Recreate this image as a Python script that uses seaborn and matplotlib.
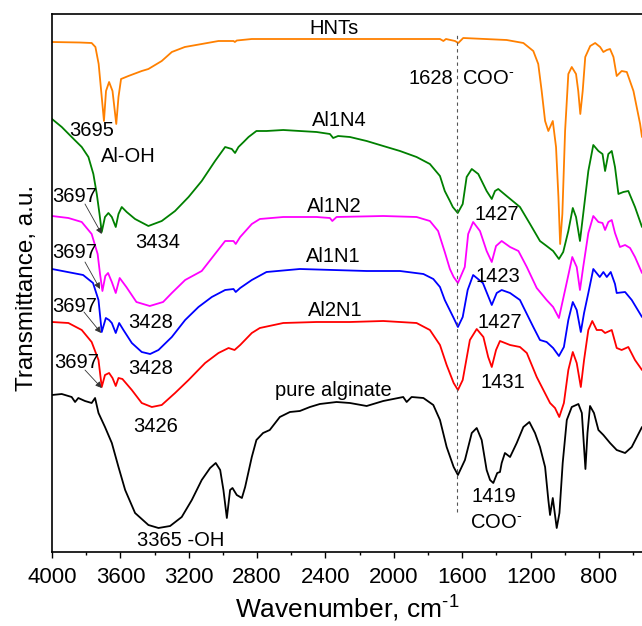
import numpy as np
import pandas as pd
import matplotlib
matplotlib.use("Agg")
import matplotlib.pyplot as plt
import seaborn as sns

# FTIR spectra: (wavenumber cm-1, transmittance a.u.)
hnts = [(4000, 510), (3838, 509.5), (3768, 509), (3746, 505), (3727, 488), (3709, 455),
        (3696, 431), (3684, 461), (3666, 470), (3646, 461), (3624, 428), (3611, 455),
        (3596, 473), (3553, 476), (3475, 481), (3436, 483), (3358, 491), (3299, 500),
        (3223, 505), (3124, 508), (3026, 511), (2938, 511), (2930, 510), (2919, 511.5),
        (2831, 513), (2257, 513), (1730, 513), (1710, 511), (1695, 513), (1642, 511),
        (1623, 509), (1594, 514), (1340, 512), (1242, 509), (1184, 501), (1155, 488),
        (1135, 461), (1115, 431), (1096, 421), (1070, 431), (1051, 405), (1037, 355),
        (1027, 308), (1014, 338), (998, 421), (979, 478), (959, 485), (934, 478),
        (921, 461), (909, 438), (895, 461), (880, 495), (851, 506), (822, 509),
        (793, 505), (774, 500), (754, 502), (735, 503), (715, 495), (696, 476),
        (667, 481), (637, 480), (598, 461), (559, 428), (548, 415)]

al1n4 = [(4000, 433), (3943, 425), (3885, 415), (3826, 405), (3787, 395), (3758, 378),
         (3738, 358), (3722, 338), (3709, 320), (3690, 335), (3670, 339), (3650, 335),
         (3627, 325), (3611, 338), (3592, 345), (3563, 340), (3514, 333), (3436, 326),
         (3358, 331), (3280, 341), (3201, 355), (3124, 371), (3046, 391), (2987, 405),
         (2948, 403), (2929, 399), (2909, 405), (2879, 410), (2850, 415), (2804, 421),
         (2745, 421), (2647, 422), (2550, 421), (2452, 420), (2374, 418), (2355, 414),
         (2326, 416), (2257, 415), (2159, 411), (2062, 406), (1964, 401), (1867, 395),
         (1789, 388), (1730, 376), (1702, 361), (1672, 351), (1655, 345), (1626, 339),
         (1597, 348), (1574, 375), (1544, 383), (1506, 378), (1457, 361), (1427, 353),
         (1408, 361), (1389, 363), (1340, 356), (1262, 345), (1203, 328), (1145, 311),
         (1106, 306), (1068, 301), (1034, 293), (1009, 300), (979, 321), (953, 344),
         (934, 335), (911, 311), (892, 338), (862, 381), (833, 407), (803, 401),
         (779, 398), (764, 381), (745, 398), (725, 401), (706, 385), (686, 358),
         (657, 360), (628, 361), (589, 345), (548, 325)]

al1n2 = [(4000, 336), (3904, 334), (3826, 330), (3768, 318), (3733, 298), (3719, 278),
         (3705, 261), (3688, 276), (3672, 279), (3650, 270), (3627, 259), (3604, 274),
         (3565, 265), (3506, 250), (3428, 246), (3350, 250), (3299, 259), (3221, 272),
         (3124, 281), (2987, 311), (2938, 311), (2925, 308), (2899, 315), (2831, 328),
         (2784, 333), (2647, 335), (2452, 335), (2374, 334), (2360, 331), (2335, 335),
         (2062, 336), (1867, 335), (1789, 331), (1741, 321), (1702, 300), (1672, 283),
         (1650, 275), (1625, 269), (1585, 285), (1565, 318), (1536, 330), (1496, 321),
         (1457, 301), (1427, 290), (1402, 306), (1369, 311), (1320, 305), (1271, 301),
         (1222, 285), (1164, 264), (1106, 252), (1068, 245), (1034, 234), (989, 269),
         (956, 295), (930, 285), (911, 262), (892, 285), (862, 319), (833, 336),
         (803, 330), (779, 329), (764, 322), (745, 330), (725, 332), (706, 319),
         (677, 305), (647, 307), (618, 304), (589, 295), (548, 279)]

al1n1 = [(4000, 283), (3818, 277), (3760, 269), (3728, 252), (3709, 220), (3685, 234),
         (3666, 232), (3650, 229), (3627, 219), (3607, 229), (3582, 222), (3533, 209),
         (3475, 200), (3426, 198), (3377, 202), (3299, 215), (3221, 232), (3143, 245),
         (3065, 255), (2987, 262), (2938, 263), (2925, 260), (2899, 264), (2831, 272),
         (2745, 280), (2550, 283), (2355, 282), (2159, 281), (1964, 281), (1827, 278),
         (1769, 273), (1730, 265), (1702, 252), (1650, 234), (1625, 225), (1597, 235),
         (1568, 262), (1536, 277), (1479, 269), (1427, 247), (1398, 259), (1369, 262),
         (1320, 259), (1262, 252), (1242, 245), (1184, 225), (1145, 212), (1106, 210),
         (1068, 204), (1034, 196), (1005, 205), (979, 232), (953, 250), (930, 242),
         (906, 220), (887, 239), (862, 259), (833, 283), (795, 275), (774, 280),
         (754, 275), (731, 280), (706, 268), (696, 259), (647, 260), (608, 252),
         (548, 235)]

al2n1 = [(4000, 230), (3904, 229), (3826, 222), (3768, 210), (3728, 192), (3709, 165),
         (3690, 177), (3666, 179), (3646, 174), (3627, 166), (3611, 174), (3588, 173),
         (3533, 162), (3475, 149), (3416, 145), (3358, 147), (3280, 159), (3201, 172),
         (3104, 189), (3026, 199), (2967, 204), (2932, 202), (2899, 207), (2831, 219),
         (2784, 224), (2647, 229), (2452, 230), (2257, 230), (2062, 231), (1867, 229),
         (1789, 222), (1730, 207), (1691, 187), (1650, 169), (1625, 162), (1597, 172),
         (1555, 212), (1515, 223), (1476, 215), (1448, 195), (1427, 185), (1402, 202),
         (1379, 211), (1320, 207), (1262, 205), (1222, 199), (1164, 175), (1125, 162),
         (1086, 149), (1057, 144), (1032, 135), (1005, 149), (979, 182), (953, 200),
         (930, 189), (906, 165), (887, 192), (862, 222), (839, 231), (813, 222),
         (784, 222), (764, 219), (725, 222), (696, 204), (667, 202), (628, 205),
         (589, 192), (548, 182)]

alginate = [(4000, 157), (3943, 158), (3885, 155), (3865, 150), (3846, 154), (3807, 151),
            (3768, 149), (3748, 154), (3728, 139), (3690, 125), (3650, 109), (3611, 85),
            (3572, 62), (3514, 39), (3436, 27), (3377, 24), (3309, 26), (3241, 35),
            (3182, 52), (3124, 72), (3075, 84), (3042, 89), (3016, 82), (2997, 62),
            (2977, 34), (2958, 62), (2944, 64), (2919, 57), (2889, 54), (2870, 65),
            (2831, 95), (2804, 112), (2765, 119), (2726, 122), (2667, 135), (2608, 140),
            (2550, 141), (2491, 145), (2433, 148), (2335, 150), (2257, 149), (2159, 146),
            (2062, 151), (1945, 155), (1925, 150), (1896, 155), (1827, 154), (1769, 147),
            (1730, 132), (1691, 105), (1650, 85), (1625, 77), (1584, 92), (1544, 119),
            (1515, 124), (1486, 112), (1457, 82), (1437, 72), (1418, 69), (1395, 79),
            (1379, 80), (1369, 89), (1350, 99), (1320, 95), (1281, 109), (1242, 125),
            (1207, 130), (1174, 119), (1145, 105), (1115, 85), (1096, 52), (1086, 37),
            (1070, 54), (1047, 24), (1031, 39), (1012, 89), (988, 132), (959, 145),
            (920, 148), (900, 139), (891, 115), (879, 83), (867, 119), (852, 146),
            (829, 139), (803, 122), (774, 117), (735, 109), (696, 102), (647, 99),
            (608, 105), (578, 115), (548, 125)]

samples = ["HNTs", "Al1N4", "Al1N2", "Al1N1", "Al2N1", "pure alginate"]
colors = ["#ff8000", "#008000", "#ff00ff", "#0000ff", "#ff0000", "#000000"]
spectra = [hnts, al1n4, al1n2, al1n1, al2n1, alginate]

# peak labels: text, wavenumber, transmittance
peak_labels = [("3695", 3768, 421), ("Al-OH", 3554, 395), ("3434", 3380, 309),
               ("3428", 3422, 229), ("3428", 3422, 183), ("3426", 3393, 126),
               ("3365 -OH", 3246, 11), ("1427", 1397, 338), ("1423", 1393, 275),
               ("1427", 1379, 229), ("1431", 1361, 170), ("1419", 1414, 56),
               (r"COO$^{\text{-}}$", 1402, 30)]
# curve name positions
name_pos = [(2351, 524), (2316, 432), (2351, 346), (2357, 295), (2345, 241), (2351, 161)]
# 3697 labels with arrow start and tip
arrows_3697 = [((3867, 355), (3807, 348), (3709, 318)),
               ((3867, 299), (3807, 290), (3719, 263)),
               ((3867, 246), (3813, 240), (3713, 219)),
               ((3855, 189), (3807, 182), (3709, 164))]

rows = []
for name, spec in zip(samples, spectra):
    for wn, t in spec:
        rows.append({"sample": name, "wn": wn, "t": t})
df = pd.DataFrame(rows)

sns.set_style("ticks", {"axes.edgecolor": "black", "xtick.color": "black",
                        "ytick.color": "black", "text.color": "black",
                        "axes.labelcolor": "black"})
plt.rcParams["font.family"] = ["Liberation Sans", "DejaVu Sans"]
plt.rcParams["mathtext.fontset"] = "custom"
plt.rcParams["mathtext.rm"] = "Liberation Sans"
plt.rcParams["mathtext.it"] = "Liberation Sans:italic"

fig = plt.figure(figsize=(6.42, 6.26), dpi=100)
ax = fig.add_axes([52 / 642, 74 / 626, 590 / 642, 538 / 626])

sns.lineplot(data=df, x="wn", y="t", hue="sample", hue_order=samples,
             palette=dict(zip(samples, colors)), estimator=None, sort=False,
             legend=False, linewidth=1.3, ax=ax)

ax.set_xlim(4000, 548)
ax.set_ylim(0, 538)
ax.set_xticks(np.arange(4000, 799, -400))
ax.set_xticks(np.arange(3800, 599, -400), minor=True)
ax.set_yticks([])
ax.tick_params(axis="x", which="major", direction="out", length=4.5, width=1,
               labelsize=16, pad=6.5)
ax.tick_params(axis="x", which="minor", direction="out", length=2.5, width=1)
for side in ["left", "top", "bottom"]:
    ax.spines[side].set_linewidth(1.2)
ax.spines["right"].set_visible(False)

ax.set_xlabel(r"Wavenumber, cm$^{\text{-1}}$", fontsize=19, va="baseline")
ax.xaxis.set_label_coords(0.5, -0.123)
ax.set_ylabel("Transmittance, a.u.", fontsize=17.5, va="baseline")
ax.yaxis.set_label_coords(-0.032, 0.49)

# dashed line at 1628
ax.plot([1628, 1628], [40, 520], color="#555555", lw=0.8, ls=(0, (3, 3)))
ax.text(1654, 473, "1628", fontsize=14.5, ha="right", va="center")
ax.text(1601, 473, r"COO$^{\text{-}}$", fontsize=14.5, ha="left", va="center")

for name, (wx, wy) in zip(samples, name_pos):
    ax.text(wx, wy, name, fontsize=14.5, ha="center", va="center")

for txt, wx, wy in peak_labels:
    ax.text(wx, wy, txt, fontsize=14.5, ha="center", va="center")

for (tpos, start, tip) in arrows_3697:
    ax.text(tpos[0], tpos[1], "3697", fontsize=14.5, ha="center", va="center")
    ax.annotate("", xy=tip, xytext=start,
                arrowprops=dict(arrowstyle="-|>", color="#333333", lw=0.6,
                                mutation_scale=9, shrinkA=0, shrinkB=0))

plt.savefig("out.png", dpi=100)
